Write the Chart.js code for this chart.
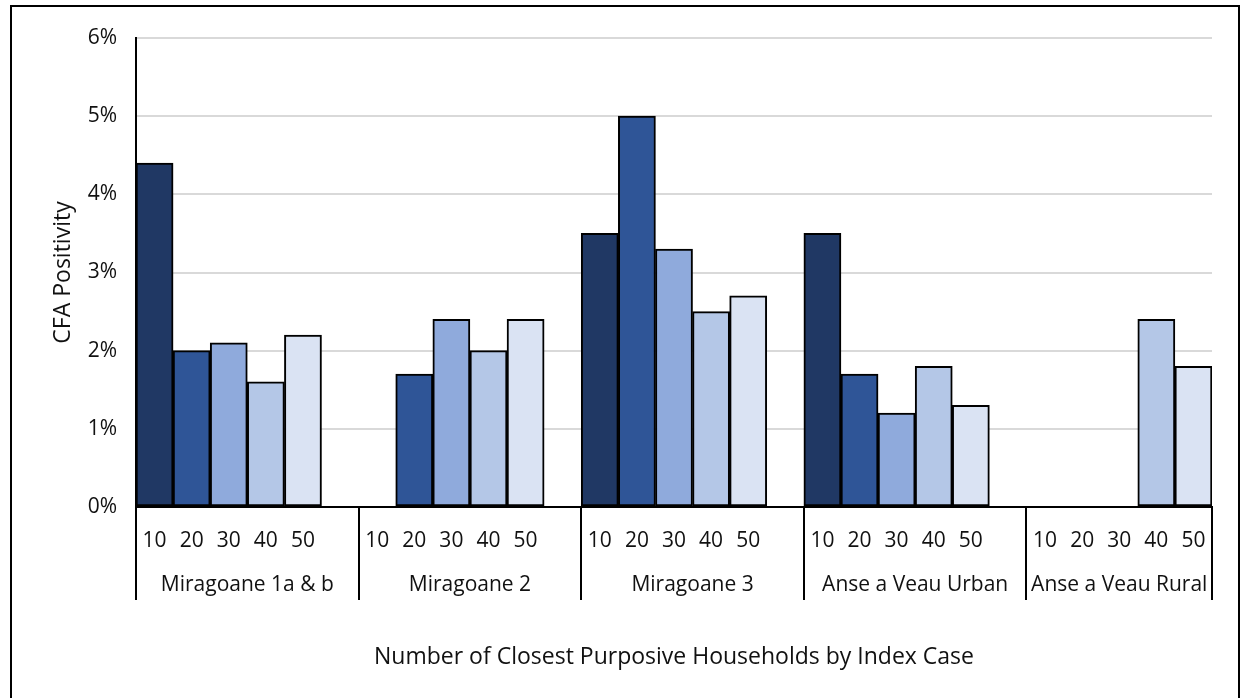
<!DOCTYPE html>
<html>
<head>
<meta charset="utf-8">
<script src="https://cdn.jsdelivr.net/npm/chart.js@4.4.1/dist/chart.umd.min.js"></script>
<style>
  html, body { margin: 0; padding: 0; background: #fff; }
  #wrap { position: relative; width: 1243px; height: 698px; }
</style>
</head>
<body>
<div id="wrap"><canvas id="c" width="1243" height="698"></canvas></div>
<script>
// ---- Data ----
const groups = ['Miragoane 1a & b', 'Miragoane 2', 'Miragoane 3', 'Anse a Veau Urban', 'Anse a Veau Rural'];
const householdCounts = ['10', '20', '30', '40', '50'];
const hh10 = [4.4, null, 3.5, 3.5, null];
const hh20 = [2.0, 1.7, 5.0, 1.7, null];
const hh30 = [2.1, 2.4, 3.3, 1.2, null];
const hh40 = [1.6, 2.0, 2.5, 1.8, 2.4];
const hh50 = [2.2, 2.4, 2.7, 1.3, 1.8];
const yTicks = [0, 1, 2, 3, 4, 5, 6];
const yTitle = 'CFA Positivity';
const xTitle = 'Number of Closest Purposive Households by Index Case';

const seriesValues = [hh10, hh20, hh30, hh40, hh50];
const seriesColors = ['#203864', '#2F5597', '#8FAADC', '#B4C7E7', '#DAE3F3'];

// build slot labels: 5 bars + 1 gap per group (no gap after last)
const slotLabels = [];
groups.forEach((g, gi) => {
  householdCounts.forEach(h => slotLabels.push(h));
  if (gi < groups.length - 1) slotLabels.push('');
});
const SLOTS_PER_GROUP = householdCounts.length + 1;

const datasets = seriesValues.map((vals, si) => {
  const data = new Array(slotLabels.length).fill(null);
  vals.forEach((v, gi) => { data[gi * SLOTS_PER_GROUP + si] = v; });
  return {
    label: householdCounts[si],
    data,
    backgroundColor: seriesColors[si],
    borderColor: '#000',
    borderWidth: 2,
    borderSkipped: false,
    barPercentage: 1,
    categoryPercentage: 1,
    grouped: false
  };
});

const FONT = '"Open Sans", "Noto Sans", sans-serif';
const TXT = '#111';

const multiLevel = {
  id: 'multiLevel',
  afterDraw(chart) {
    const ctx = chart.ctx;
    const xs = chart.scales.x;
    const n = slotLabels.length;
    const w = (xs.right - xs.left) / n;
    const y0 = xs.top;
    const y1 = 600;
    ctx.save();
    ctx.strokeStyle = '#000';
    ctx.lineWidth = 2;
    const bounds = [];
    groups.forEach((g, gi) => {
      const start = gi * SLOTS_PER_GROUP;
      const left = xs.getPixelForValue(start) - w / 2;
      let right;
      if (gi < groups.length - 1) right = xs.getPixelForValue(start + SLOTS_PER_GROUP) - w / 2;
      else right = xs.getPixelForValue(n - 1) + w / 2;
      bounds.push([left, right]);
    });
    const lines = bounds.map(b => b[0]).concat([bounds[bounds.length - 1][1]]);
    lines.forEach(x => {
      ctx.beginPath();
      ctx.moveTo(Math.round(x), y0);
      ctx.lineTo(Math.round(x), y1);
      ctx.stroke();
    });
    ctx.fillStyle = TXT;
    ctx.font = '21px ' + FONT;
    ctx.textAlign = 'center';
    ctx.textBaseline = 'middle';
    groups.forEach((g, gi) => {
      ctx.fillText(g, (bounds[gi][0] + bounds[gi][1]) / 2, 585);
    });
    // outer frame
    ctx.lineWidth = 2;
    ctx.strokeRect(11, 6, 1228, 720);
    ctx.restore();
  }
};

new Chart(document.getElementById('c'), {
  type: 'bar',
  data: { labels: slotLabels, datasets },
  options: {
    responsive: false,
    animation: false,
    layout: { padding: { left: 0, right: 31, top: 38, bottom: 0 } },
    plugins: { legend: { display: false }, tooltip: { enabled: false } },
    scales: {
      x: {
        grid: { display: false, drawTicks: false },
        border: { display: true, color: '#000', width: 2 },
        ticks: {
          autoSkip: false, maxRotation: 0, minRotation: 0,
          padding: 21, color: TXT,
          font: { family: FONT, size: 21 }
        },
        title: {
          display: true, text: xTitle, color: TXT,
          font: { family: FONT, size: 23 },
          padding: { top: 0, bottom: 27 }
        },
        afterFit(s) { s.height = 191; }
      },
      y: {
        min: 0, max: 6,
        afterBuildTicks(s) { s.ticks = yTicks.map(v => ({ value: v })); },
        grid: { color: '#D9D9D9', lineWidth: 2, drawTicks: false },
        border: { display: true, color: '#000', width: 2 },
        ticks: {
          padding: 19, color: TXT,
          font: { family: FONT, size: 21 },
          callback: v => v + '%'
        },
        title: {
          display: true, text: yTitle, color: TXT,
          font: { family: FONT, size: 23 },
          padding: { top: 50, bottom: 0 }
        },
        afterFit(s) { s.width = 136; }
      }
    }
  },
  plugins: [multiLevel]
});
</script>
</body>
</html>
